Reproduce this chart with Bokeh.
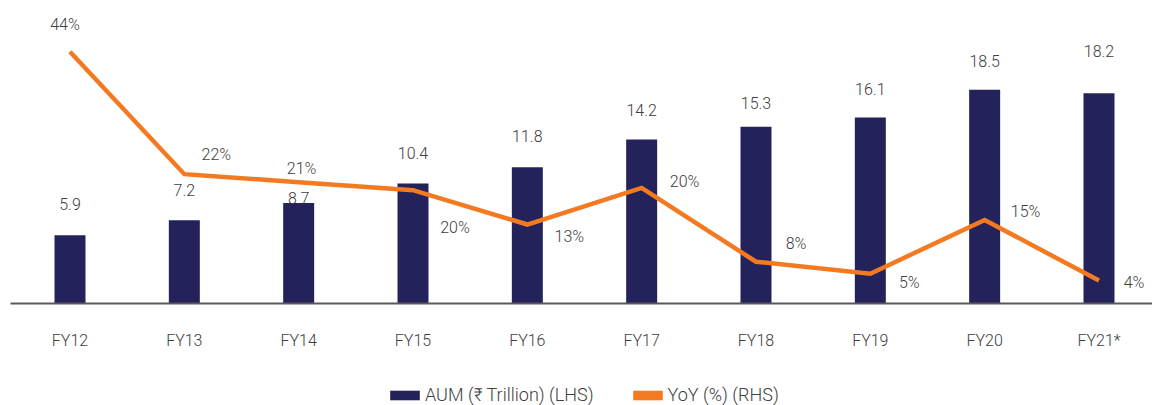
from bokeh.plotting import figure
from bokeh.layouts import column
from bokeh.models import (ColumnDataSource, Range1d, FixedTicker,
                          Legend, LegendItem)
from bokeh.core.properties import value
from bokeh.embed import file_html
from bokeh.resources import INLINE

# ---- data ----
categories = ["FY12", "FY13", "FY14", "FY15", "FY16", "FY17", "FY18", "FY19", "FY20", "FY21*"]
aum = [5.9, 7.2, 8.7, 10.4, 11.8, 14.2, 15.3, 16.1, 18.5, 18.2]
aum_labels = ["5.9", "7.2", "8.7", "10.4", "11.8", "14.2", "15.3", "16.1", "18.5", "18.2"]
yoy = [44.0, 22.6, 21.2, 19.8, 13.8, 20.2, 7.3, 5.2, 14.6, 4.0]
yoy_labels = ["44%", "22%", "21%", "20%", "13%", "20%", "8%", "5%", "15%", "4%"]
series_names = ["AUM (\u20b9 Trillion) (LHS)", "YoY (%) (RHS)"]

# ---- styles ----
BAR = "#23225A"
ORANGE = "#F47A22"
TXT = "#404040"
FONT_NAME = "'Roboto Light', Roboto"
FONT = value(FONT_NAME)
FS = "16px"
LEG_FS = "18px"

# per-label offsets (screen px) for annotation placement
aum_dy = [-31, -30, -5, -30, -31, -30, -24, -29, -29, -42]
yoy_dx = [-5, 32, 3, 42, 42, 43, 40, 39, 41, 35]
yoy_dy = [-27, -20, -14, 37, 12, -6, -18, 9, -8, 2]

idx = list(range(len(categories)))

p = figure(width=1152, height=370, output_backend="svg", toolbar_location=None,
           x_range=Range1d(-0.5204, 9.468), y_range=Range1d(0, 25.37),
           y_axis_location=None, min_border_left=10, min_border_right=0,
           min_border_top=10, min_border_bottom=67)
p.extra_y_ranges = {"yoy": Range1d(0, 51.2)}
p.outline_line_color = None
p.xgrid.visible = False
p.ygrid.visible = False
p.background_fill_color = "white"
p.border_fill_color = "white"

ax = p.xaxis[0]
ax.ticker = FixedTicker(ticks=idx)
ax.major_label_overrides = {i: c for i, c in zip(idx, categories)}
ax.axis_line_color = "#595959"
ax.axis_line_width = 2
ax.major_tick_line_color = None
ax.minor_tick_line_color = None
ax.major_label_standoff = 21
ax.major_label_text_font = FONT_NAME
ax.major_label_text_font_size = FS
ax.major_label_text_color = TXT

src = ColumnDataSource(dict(x=idx, aum=aum, aum_lab=aum_labels, aum_dy=aum_dy,
                            yoy=yoy, yoy_lab=yoy_labels, yoy_dx=yoy_dx, yoy_dy=yoy_dy))

bars = p.vbar(x="x", top="aum", width=0.271, source=src, fill_color=BAR, line_color=None)
p.text(x="x", y="aum", text="aum_lab", y_offset="aum_dy", source=src,
       text_align="center", text_baseline="middle", text_font=FONT,
       text_font_size=FS, text_color=TXT)

p.line(x="x", y="yoy", source=src, y_range_name="yoy", line_color=ORANGE,
       line_width=4.5, line_join="miter")
p.text(x="x", y="yoy", text="yoy_lab", x_offset="yoy_dx", y_offset="yoy_dy",
       source=src, y_range_name="yoy", text_align="center", text_baseline="middle",
       text_font=FONT, text_font_size=FS, text_color=TXT)

# ---- legend strip (separate small figure under the chart) ----
lg = figure(width=1152, height=35, output_backend="svg", toolbar_location=None,
            x_range=Range1d(1, 2), y_range=Range1d(1, 2),
            x_axis_location=None, y_axis_location=None,
            min_border_left=0, min_border_right=0, min_border_top=0, min_border_bottom=0)
lg.outline_line_color = None
lg.xgrid.visible = False
lg.ygrid.visible = False
# swatch renderers kept outside the visible range; only their legend boxes show
sw_bar = lg.vbar(x=[0], top=[0.5], width=0.1, fill_color=BAR, line_color=None)
sw_line = lg.vbar(x=[0], top=[0.5], width=0.1, fill_color=ORANGE, line_color=None)

legend = Legend(items=[LegendItem(label=series_names[0], renderers=[sw_bar]),
                       LegendItem(label=series_names[1], renderers=[sw_line])],
                orientation="horizontal", location=(376, 0),
                glyph_width=37, glyph_height=12, label_standoff=2, spacing=35,
                padding=0, margin=0, border_line_alpha=0, background_fill_alpha=0,
                label_text_font=FONT_NAME, label_text_font_size=LEG_FS, label_text_color=TXT)
lg.add_layout(legend, "center")

layout = column(p, lg, spacing=0)
open("out.html", "w").write(file_html(layout, INLINE))
